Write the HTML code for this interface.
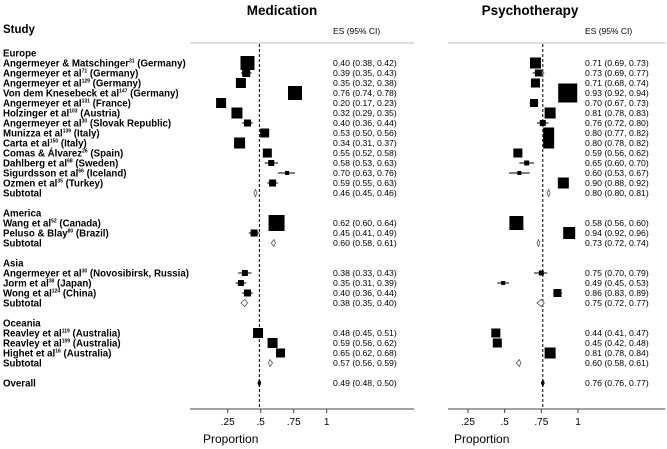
<!DOCTYPE html>
<html><head><meta charset="utf-8"><style>
html,body{margin:0;padding:0;background:#fff;}
svg{display:block;font-family:"Liberation Sans",Arial,sans-serif;}
</style></head><body>
<svg id="chart" width="667" height="449" viewBox="0 0 667 449"></svg>
<script>
// ---- data ----
const groups = ["Europe","America","Asia","Oceania"];
const studyNames = ["Angermeyer & Matschinger","Angermeyer et al","Angermeyer et al","Von dem Knesebeck et al","Angermeyer et al","Holzinger et al","Angermeyer et al","Munizza et al","Carta et al","Comas & Álvarez","Dahlberg et al","Sigurdsson et al","Ozmen  et al","Wang et al","Peluso & Blay","Angermeyer et al","Jorm et al","Wong et al","Reavley et al","Reavley et al","Highet et al"];
const studyRefs = ["31","71","129","147","131","103","30","139","150","26","68","66","35","52","80","30","38","124","119","109","16"];
const studyCountries = ["(Germany)","(Germany)","(Germany)","(Germany)","(France)","(Austria)","(Slovak Republic)","(Italy)","(Italy)","(Spain)","(Sweden)","(Iceland)","(Turkey)","(Canada)","(Brazil)","(Novosibirsk, Russia)","(Japan)","(China)","(Australia)","(Australia)","(Australia)"];
const studyGroup = [0,0,0,0,0,0,0,0,0,0,0,0,0,1,1,2,2,2,3,3,3];
const medES = [0.40,0.39,0.35,0.76,0.20,0.32,0.40,0.53,0.34,0.55,0.58,0.70,0.59,0.62,0.45,0.38,0.35,0.40,0.48,0.59,0.65];
const medLo = [0.38,0.35,0.32,0.74,0.17,0.29,0.36,0.50,0.31,0.52,0.53,0.63,0.55,0.60,0.41,0.33,0.31,0.36,0.45,0.56,0.62];
const medHi = [0.42,0.43,0.38,0.78,0.23,0.35,0.44,0.56,0.37,0.58,0.63,0.76,0.63,0.64,0.49,0.43,0.39,0.44,0.51,0.62,0.68];
const medW = [14,8,10,14,10,11,7,9,11,9,6,4,7,16,7,6,6,7,10,10,9];
const psyES = [0.71,0.73,0.71,0.93,0.70,0.81,0.76,0.80,0.80,0.59,0.65,0.60,0.90,0.58,0.94,0.75,0.49,0.86,0.44,0.45,0.81];
const psyLo = [0.69,0.69,0.68,0.92,0.67,0.78,0.72,0.77,0.78,0.56,0.60,0.53,0.88,0.56,0.92,0.70,0.45,0.83,0.41,0.42,0.78];
const psyHi = [0.73,0.77,0.74,0.94,0.73,0.83,0.80,0.82,0.82,0.62,0.70,0.67,0.92,0.60,0.96,0.79,0.53,0.89,0.47,0.48,0.84];
const psyW = [11,7,9,19,8,11,6,11,11,9,5,4,11,14,12,5,4,8,9,9,11];
const medSub = [[0.46,0.45,0.46],[0.60,0.58,0.61],[0.38,0.35,0.40],[0.57,0.56,0.59]];
const psySub = [[0.80,0.80,0.81],[0.73,0.72,0.74],[0.75,0.72,0.77],[0.60,0.58,0.61]];
const medOverall = [0.49,0.48,0.50];
const psyOverall = [0.76,0.76,0.77];
const tickVals = [0.25,0.5,0.75,1];
const tickLabels = [".25",".5",".75","1"];

// ---- layout ----
const NS="http://www.w3.org/2000/svg";
const svg=document.getElementById('chart');
function el(tag,attrs,parent){const e=document.createElementNS(NS,tag);for(const k in attrs)e.setAttribute(k,attrs[k]);(parent||svg).appendChild(e);return e;}
const xMed=p=>194.7+p*132;
const xPsy=p=>431.3+p*146.7;
const fmt=v=>v.toFixed(2);

const rowY=[];const headerY=[];const subY=[];
let y=53;
for(let g=0;g<groups.length;g++){
  headerY.push(y);y+=10;
  for(let i=0;i<studyGroup.length;i++){if(studyGroup[i]===g){rowY[i]=y;y+=10;}}
  subY.push(y);y+=20;
}
const overallY=y;

let t=el('text',{x:282,y:15,'font-size':13.5,'font-weight':'bold','text-anchor':'middle'});t.textContent='Medication';

t=el('text',{x:530,y:15,'font-size':13.5,'font-weight':'bold','text-anchor':'middle'});t.textContent='Psychotherapy';

t=el('text',{x:3,y:33,'font-size':11.5,'font-weight':'bold'});t.textContent='Study';

t=el('text',{x:333,y:34,'font-size':8.5});t.textContent='ES (95% CI)';

t=el('text',{x:585,y:34,'font-size':8.5});t.textContent='ES (95% CI)';


[[190,414],[448,665]].forEach((s,k)=>{
  let l=el('line',{x1:s[0],x2:s[1],y1:43,y2:43,stroke:'#ccc','stroke-width':1.2});
  
  l=el('line',{x1:s[0],x2:s[1],y1:409,y2:409,stroke:'#444','stroke-width':1});
  
});

groups.forEach((g,i)=>{
  const tx=el('text',{x:3,y:headerY[i]+3.5,'font-size':9.7,'font-weight':'bold'});tx.textContent=g;
  
  const st=el('text',{x:3,y:subY[i]+3.5,'font-size':9.7,'font-weight':'bold'});st.textContent='Subtotal';
  
});
t=el('text',{x:3,y:overallY+3.5,'font-size':9.7,'font-weight':'bold'});t.textContent='Overall';

studyNames.forEach((n,i)=>{
  const tx=el('text',{x:3,y:rowY[i]+3.5,'font-size':9.7,'font-weight':'bold'});
  
  
  const a=el('tspan',{},tx);a.textContent=n;
  const b=el('tspan',{'font-size':5,dy:-4},tx);b.textContent=studyRefs[i];
  const c=el('tspan',{dy:4},tx);c.textContent=' '+studyCountries[i];
});

function panel(xf,es,lo,hi,w,sub,ov,textX,prefix){
  const g=el('g',{});
  
  const d=el('line',{x1:xf(ov[0]),x2:xf(ov[0]),y1:44,y2:409,stroke:'#000','stroke-width':1,'stroke-dasharray':'3,2'},g);
  
  es.forEach((v,i)=>{
    const yy=rowY[i];
    const ci=el('line',{x1:xf(lo[i]),x2:xf(hi[i]),y1:yy,y2:yy,stroke:'#000','stroke-width':1},g);
    
    const s=w[i];
    const r=el('rect',{x:xf(v)-s/2,y:yy-s/2,width:s,height:s,fill:'#000'},g);
    
    const tx=el('text',{x:textX,y:yy+3,'font-size':8.7},g);
    tx.textContent=fmt(v)+' ('+fmt(lo[i])+', '+fmt(hi[i])+')';
    
  });
  function diamond(vals,yy,filled,name){
    const a=Math.min(xf(vals[1]),xf(vals[0])-1.5),b=Math.max(xf(vals[2]),xf(vals[0])+1.5),c=xf(vals[0]);
    const p=el('polygon',{points:`${a},${yy} ${c},${yy-3.5} ${b},${yy} ${c},${yy+3.5}`,fill:filled?'#000':'#fff',stroke:filled?'#000':'#555','stroke-width':0.8},g);
    
    const tx=el('text',{x:textX,y:yy+3,'font-size':8.7},g);
    tx.textContent=fmt(vals[0])+' ('+fmt(vals[1])+', '+fmt(vals[2])+')';
    
  }
  sub.forEach((s,i)=>diamond(s,subY[i],false,prefix+'-subtotal-diamond'));
  diamond(ov,overallY,true,prefix+'-overall-diamond');
  tickVals.forEach((tv,i)=>{
    const tk=el('line',{x1:xf(tv),x2:xf(tv),y1:409,y2:413,stroke:'#444'},g);
    
    const tl=el('text',{x:xf(tv),y:425,'font-size':10,'text-anchor':'middle'},g);tl.textContent=tickLabels[i];
    
  });
}
panel(xMed,medES,medLo,medHi,medW,medSub,medOverall,333,'med');
panel(xPsy,psyES,psyLo,psyHi,psyW,psySub,psyOverall,585,'psy');
t=el('text',{x:203,y:443,'font-size':12});t.textContent='Proportion';

t=el('text',{x:454,y:443,'font-size':12});t.textContent='Proportion';

</script>
</body></html>
